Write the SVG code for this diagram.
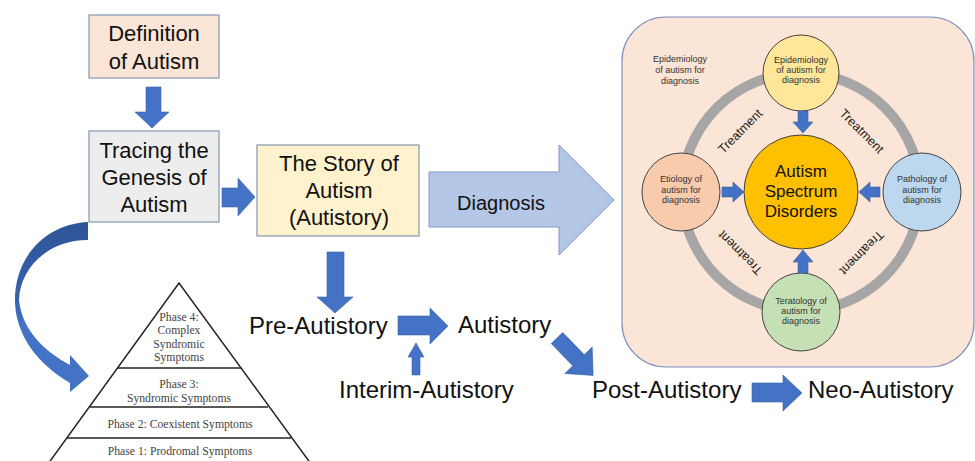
<svg xmlns="http://www.w3.org/2000/svg" width="975" height="461" viewBox="0 0 975 461">
  <style>
    .box { stroke: #8497b0; stroke-width: 1.2; }
    .boxtxt { font-family: "Liberation Sans", Arial, sans-serif; font-size: 22px; fill: #111; text-anchor: middle; }
    .flow { font-family: "Liberation Sans", Arial, sans-serif; font-size: 24px; fill: #111; }
    .arrow { fill: #4472c4; stroke: #3a62ad; stroke-width: 0.6; }
    .pyr { fill: none; stroke: #222; stroke-width: 1.5; }
    .pyrtxt { font-family: "Liberation Serif", "Times New Roman", serif; font-size: 11.7px; fill: #444; text-anchor: middle; }
    .sat { stroke: #444; stroke-width: 1; }
    .sattxt { font-family: "Liberation Sans", Arial, sans-serif; font-size: 9px; fill: #333; text-anchor: middle; }
    .treat { font-family: "Liberation Sans", Arial, sans-serif; font-size: 12.5px; fill: #222; text-anchor: middle; }
  </style>
  <defs>
    <linearGradient id="curveFill" x1="0" y1="0" x2="0" y2="1">
      <stop offset="0" stop-color="#2f5597"/>
      <stop offset="0.45" stop-color="#3561ab"/>
      <stop offset="0.6" stop-color="#4472c4"/>
      <stop offset="1" stop-color="#4472c4"/>
    </linearGradient>
  </defs>

  <rect width="975" height="461" fill="#ffffff"/>

  <!-- left column boxes -->
  <g id="definition">
    <rect class="box" x="89" y="15" width="130" height="63" fill="#fbe5d6"/>
    <text class="boxtxt" x="154" y="41">Definition</text>
    <text class="boxtxt" x="154" y="69">of Autism</text>
  </g>

  <g id="tracing">
    <rect class="box" x="89" y="131" width="130" height="91" fill="#ededed"/>
    <text class="boxtxt" x="154" y="158">Tracing the</text>
    <text class="boxtxt" x="154" y="185">Genesis of</text>
    <text class="boxtxt" x="154" y="212">Autism</text>
  </g>

  <g id="story">
    <rect class="box" x="257" y="145" width="162" height="91" fill="#fff2cc"/>
    <text class="boxtxt" x="339" y="171">The Story of</text>
    <text class="boxtxt" x="339" y="198">Autism</text>
    <text class="boxtxt" x="339" y="225">(Autistory)</text>
  </g>

  <!-- phase pyramid -->
  <g id="pyramid">
    <polyline class="pyr" points="48,464 179,283 311,464"/>
    <line class="pyr" x1="118" y1="368" x2="241" y2="368"/>
    <line class="pyr" x1="90" y1="407" x2="268" y2="407"/>
    <line class="pyr" x1="67" y1="438" x2="291" y2="438"/>
    <text class="pyrtxt" x="179" y="321">Phase 4:</text>
    <text class="pyrtxt" x="179" y="334">Complex</text>
    <text class="pyrtxt" x="179" y="348">Syndromic</text>
    <text class="pyrtxt" x="179" y="361">Symptoms</text>
    <text class="pyrtxt" x="179" y="388">Phase 3:</text>
    <text class="pyrtxt" x="179" y="402">Syndromic Symptoms</text>
    <text class="pyrtxt" x="180" y="428">Phase 2: Coexistent Symptoms</text>
    <text class="pyrtxt" x="180" y="455">Phase 1: Prodromal Symptoms</text>
  </g>

  <!-- stage labels -->
  <g id="pre-autistory"><text class="flow" x="249" y="334">Pre-Autistory</text></g>
  <g id="autistory"><text class="flow" x="458" y="333">Autistory</text></g>
  <g id="interim-autistory"><text class="flow" x="339" y="398">Interim-Autistory</text></g>
  <g id="post-autistory"><text class="flow" x="592" y="398">Post-Autistory</text></g>
  <g id="neo-autistory"><text class="flow" x="808" y="398">Neo-Autistory</text></g>

  <!-- diagnosis block arrow -->
  <g id="diagnosis">
    <path d="M429,172 L559,172 L559,145 L614,200 L559,255 L559,227 L429,227 Z" fill="#b4c7e7" stroke="#7f9bcc" stroke-width="1"/>
    <text x="501" y="210" font-family="'Liberation Sans', Arial, sans-serif" font-size="20" fill="#111" text-anchor="middle">Diagnosis</text>
  </g>

  <!-- autism spectrum panel -->
  <g id="asd-panel">
    <rect x="622" y="17" width="352" height="350" rx="44" ry="44" fill="#fbe5d6" stroke="#7d8fbe" stroke-width="1.2"/>
    <circle cx="801" cy="192" r="119" fill="none" stroke="#a6a6a6" stroke-width="10"/>
    <text class="sattxt" x="680" y="62" font-size="9.3">Epidemiology</text>
    <text class="sattxt" x="680" y="73" font-size="9.3">of autism for</text>
    <text class="sattxt" x="680" y="84" font-size="9.3">diagnosis</text>

    <text class="treat" transform="translate(740,131) rotate(-45)" y="4.5">Treatment</text>
    <text class="treat" transform="translate(862,131) rotate(45)" y="4.5">Treatment</text>
    <text class="treat" transform="translate(862,253) rotate(135)" y="4.5">Treatment</text>
    <text class="treat" transform="translate(740,253) rotate(-135)" y="4.5">Treatment</text>
  </g>

  <g id="asd-core">
    <circle cx="801" cy="192" r="57" fill="#ffc000" stroke="#404040" stroke-width="1"/>
    <text x="801" y="177" font-family="'Liberation Sans', Arial, sans-serif" font-size="17" fill="#111" text-anchor="middle">Autism</text>
    <text x="801" y="197" font-family="'Liberation Sans', Arial, sans-serif" font-size="17" fill="#111" text-anchor="middle">Spectrum</text>
    <text x="801" y="217" font-family="'Liberation Sans', Arial, sans-serif" font-size="17" fill="#111" text-anchor="middle">Disorders</text>
  </g>

  <g id="epidemiology">
    <circle class="sat" cx="801" cy="73" r="38" fill="#ffe699"/>
    <text class="sattxt" x="801" y="63">Epidemiology</text>
    <text class="sattxt" x="801" y="73">of autism for</text>
    <text class="sattxt" x="801" y="83">diagnosis</text>
  </g>

  <g id="etiology">
    <circle class="sat" cx="681" cy="192" r="39" fill="#f8cbad"/>
    <text class="sattxt" x="681" y="182">Etiology of</text>
    <text class="sattxt" x="681" y="193">autism for</text>
    <text class="sattxt" x="681" y="203">diagnosis</text>
  </g>

  <g id="pathology">
    <circle class="sat" cx="922" cy="192" r="39" fill="#bdd7ee"/>
    <text class="sattxt" x="922" y="182">Pathology of</text>
    <text class="sattxt" x="922" y="193">autism for</text>
    <text class="sattxt" x="922" y="203">diagnosis</text>
  </g>

  <g id="teratology">
    <circle class="sat" cx="801" cy="312" r="39" fill="#c5e0b4"/>
    <text class="sattxt" x="801" y="304">Teratology of</text>
    <text class="sattxt" x="801" y="314">autism for</text>
    <text class="sattxt" x="801" y="324">diagnosis</text>
  </g>

  <!-- connectors -->
  <g id="connectors">
    <!-- definition to tracing -->
    <path class="arrow" d="M146,87 L161,87 L161,112 L169,112 L152,128 L135,112 L146,112 Z"/>
    <!-- tracing to story -->
    <path class="arrow" d="M222,188 L238,188 L238,178 L255,197 L238,216 L238,207 L222,207 Z"/>
    <!-- story to pre-autistory -->
    <path class="arrow" d="M327,252 L344,252 L344,297 L353,297 L335,313 L317,297 L327,297 Z"/>
    <!-- pre-autistory to autistory -->
    <path class="arrow" d="M398,316 L430,316 L430,308 L448,326 L430,344 L430,335 L398,335 Z"/>
    <!-- interim up to the flow -->
    <path class="arrow" d="M412,375 L420,375 L420,357 L424,357 L416,343 L408,357 L412,357 Z"/>
    <!-- autistory to post-autistory -->
    <path class="arrow" transform="translate(557,338) rotate(46)" d="M0,-8 L31,-8 L31,-19 L52,0 L31,19 L31,8 L0,8 Z"/>
    <!-- post to neo -->
    <path class="arrow" d="M752,383 L783,383 L783,375 L802,393 L783,411 L783,402 L752,402 Z"/>
    <!-- curved arrow from tracing down to the pyramid -->
    <path d="M88,222 C45,224 14,258 15,302 C16,336 38,364 70,383 L70,392 L89,376 L70,355 L70,365 C44,351 22,330 19,300 C20,268 48,240 88,240 Z" fill="url(#curveFill)"/>
    <!-- satellite arrows into the core -->
    <path class="arrow" d="M798,111 L808,111 L808,122 L813,122 L803,133 L793,122 L798,122 Z"/>
    <path class="arrow" d="M722,187 L733,187 L733,182 L744,192 L733,202 L733,197 L722,197 Z"/>
    <path class="arrow" d="M880,187 L870,187 L870,182 L859,192 L870,202 L870,197 L880,197 Z"/>
    <path class="arrow" d="M798,273 L808,273 L808,262 L813,262 L803,250 L793,262 L798,262 Z"/>
  </g>
</svg>
